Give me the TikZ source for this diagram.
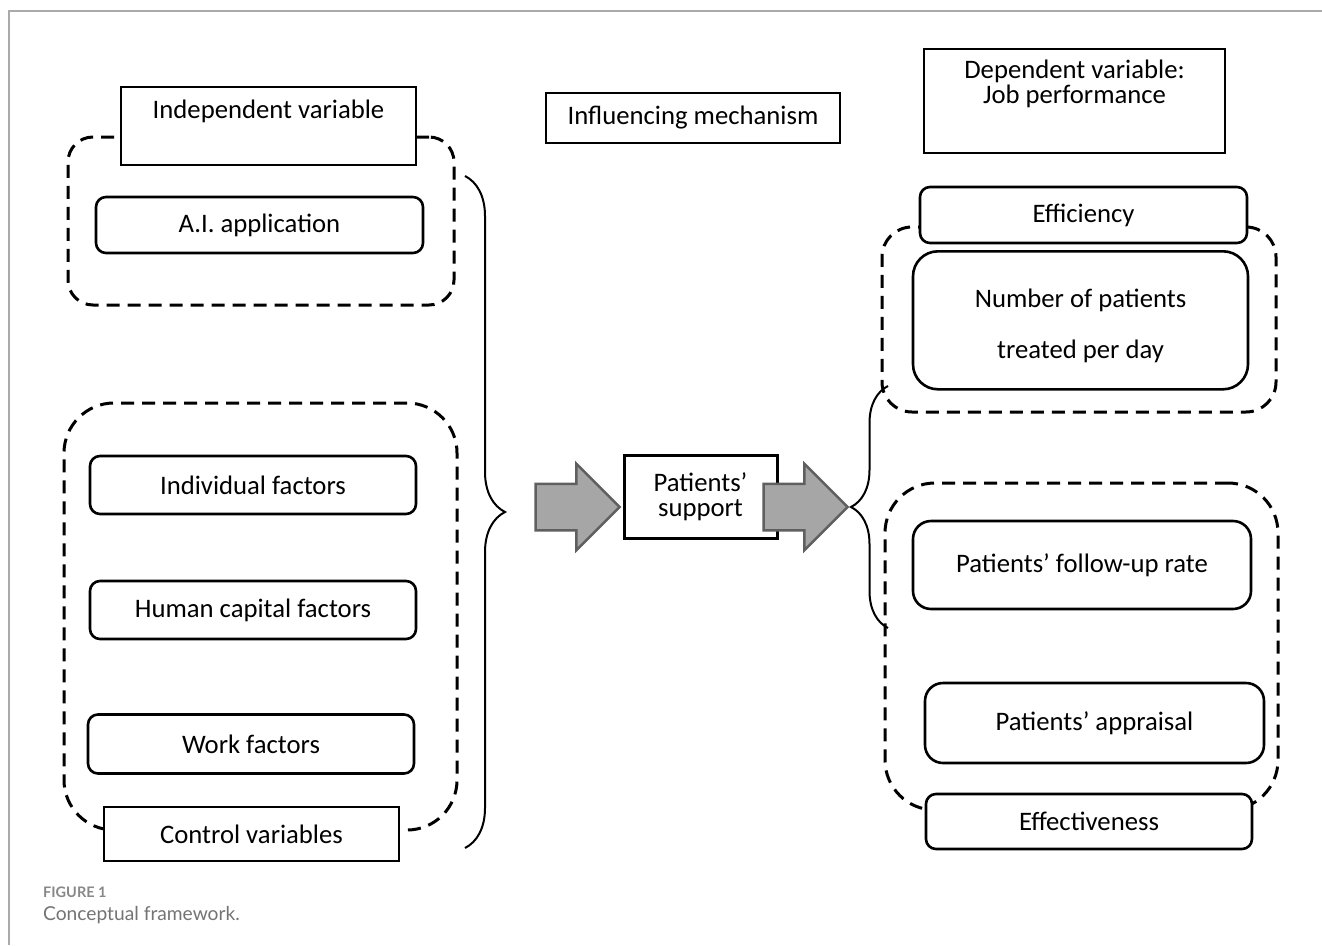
\documentclass[tikz,border=0pt]{standalone}
\usepackage{fontspec}
\setmainfont{Carlito}
\newfontfamily\capfont{Lato}
\usetikzlibrary{shapes.arrows, decorations.pathreplacing}

\definecolor{arrowgray}{RGB}{166,166,166}
\definecolor{arrowedge}{RGB}{95,95,95}
\definecolor{framegray}{RGB}{170,170,170}
\definecolor{capgray}{RGB}{115,115,115}

\begin{document}
\begin{tikzpicture}[
  x=1pt, y=-1pt,
  font=\fontsize{26.7}{25}\selectfont,
  group/.style={draw, line width=3pt, dash pattern=on 13pt off 8pt, rounded corners=#1},
  group/.default=30pt,
  varbox/.style={draw, line width=1.6pt, fill=white, align=center, inner sep=0pt},
  factor/.style={draw, line width=2.6pt, fill=white, rounded corners=#1, align=center, inner sep=0pt},
  factor/.default=10pt,
  blockarr/.style={single arrow, draw=arrowedge, fill=arrowgray, line width=2.5pt,
                   minimum width=84pt, minimum height=84pt,
                   single arrow head extend=20pt, inner xsep=0pt, inner ysep=22pt},
  bracket/.style={decorate, decoration={brace, amplitude=#1}, line width=2pt}
]
\useasboundingbox (0,0) rectangle (1322,945);
\draw[framegray, line width=1.5pt] (9,945) -- (9,11) -- (1322,11);

% dashed groups
\node[group=25pt, minimum width=386pt, minimum height=168pt] (aigrp) at (261,221) {};
\node[group=50pt, minimum width=393pt, minimum height=427pt] (ctrlgrp) at (260.5,616.5) {};
\node[group=30pt, minimum width=394pt, minimum height=185pt] (effgrp) at (1079,319.5) {};
\node[group=50pt, minimum width=393pt, minimum height=327pt] (outgrp) at (1081.5,646.5) {};

% independent side
\node[varbox, minimum width=295pt, text height=32pt, text depth=46pt, anchor=north] (indep) at (268.5,86) {Independent variable};
\node[factor, minimum width=327pt, minimum height=56pt] (ai) at (259.5,225) {A.I. application};
\node[factor, minimum width=326pt, minimum height=58pt] (indiv) at (253,485) {Individual factors};
\node[factor, minimum width=326pt, minimum height=58pt] (human) at (253,610) {Human capital factors};
\node[factor, minimum width=326pt, minimum height=59pt] (work) at (251,744) {Work factors};
\node[varbox, minimum width=295pt, minimum height=54pt] (ctrl) at (251.5,834) {Control variables};

% mechanism
\node[varbox, minimum width=294pt, minimum height=50pt] (mech) at (693,118) {Influencing mechanism};
\node[varbox, line width=3pt, minimum width=153pt, minimum height=83pt] (support) at (700.5,496.5) {Patients’\\support};
\node[blockarr] (arrin) at (566,507) {};
\node[blockarr] (arrout) at (794,507) {};

% dependent side
\node[varbox, minimum width=301pt, text height=55pt, text depth=49pt, anchor=north] (dep) at (1074.5,48) {Dependent variable:\\Job performance};
\node[factor, minimum width=327pt, minimum height=56pt] (eff) at (1083.5,215) {Efficiency};
\node[factor=25pt, minimum width=335pt, text height=107pt, text depth=31pt, anchor=north, font=\fontsize{26.7}{51}\selectfont] (npat) at (1080.5,250) {Number of patients\\treated per day};
\node[factor=18pt, minimum width=338pt, minimum height=88pt] (follow) at (1082,565) {Patients’ follow-up rate};
\node[factor=18pt, minimum width=339pt, minimum height=80pt] (apprais) at (1094.5,723) {Patients’ appraisal};
\node[factor, minimum width=326pt, minimum height=55pt] (effect) at (1089,821.5) {Effectiveness};

% braces
\coordinate (lbtop) at (465,176);
\coordinate (lbbot) at (465,848);
\draw[bracket=40pt] (lbtop) -- (lbbot);
\coordinate (rbbot) at (888,628);
\coordinate (rbtop) at (888,386);
\draw[bracket=37pt] (rbbot) -- (rbtop);

% caption
\node[anchor=west, inner sep=0pt, text=capgray!85, font=\capfont\bfseries\fontsize{14.5}{16}\selectfont] (figno) at (43,892) {FIGURE 1};
\node[anchor=west, inner sep=0pt, text=capgray, font=\capfont\fontsize{19.2}{21}\selectfont] (figcap) at (43,915) {Conceptual framework.};
\end{tikzpicture}
\end{document}
